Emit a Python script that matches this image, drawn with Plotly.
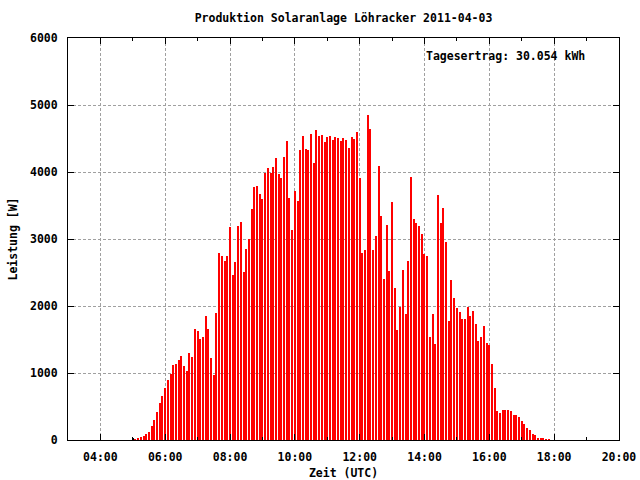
import plotly.graph_objects as go
import pandas as pd

title_text = "Produktion Solaranlage Löhracker 2011-04-03"
x_label = "Zeit (UTC)"
y_label = "Leistung [W]"
yield_label = "Tagesertrag: 30.054 kWh"

start_time = "2011-04-03 05:00"
interval = "5min"

power_w = [
    30, 10, 35, 45, 65, 90, 120, 210, 300, 420,
    550, 660, 770, 900, 990, 1120, 1135, 1195, 1255, 1105,
    1030, 1300, 1240, 1660, 1630, 1510, 1540, 1855, 1660, 1230,
    972, 1900, 2798, 2753, 2678, 2753, 3177, 2468, 2663, 3187,
    3247, 2513, 2858, 2997, 3441, 3770, 3785, 3665, 3590, 3979,
    4054, 3979, 4069, 4204, 3964, 3904, 4219, 4458, 3605, 3127,
    3710, 3560, 4323, 4533, 4338, 4323, 4563, 4129, 4623, 4533,
    4548, 4443, 4518, 4533, 4473, 4518, 4503, 4458, 4503, 4473,
    4353, 4518, 4488, 4593, 3904, 2798, 2843, 4847, 4638, 2843,
    3052, 4084, 3336, 2409, 3216, 2528, 3545, 2274, 1646, 1990,
    2543, 1885, 2678, 3919, 3306, 3246, 3187, 3082, 2783, 2753,
    1541, 1885, 1436, 3650, 3246, 3456, 2962, 1780, 2394, 2124,
    1975, 1915, 1810, 1810, 1990, 1855, 1930, 1735, 1481, 1541,
    1705, 1451, 1421, 1137, 778, 434, 404, 449, 449, 449,
    434, 374, 374, 344, 284, 239, 180, 150, 90, 75,
    30, 30, 30, 15, 15,
]

times = pd.date_range(start_time, periods=len(power_w), freq=interval)
bar_colors = ["#000000"] + ["#ff0000"] * (len(power_w) - 1)

font = dict(family="DejaVu Sans Mono", size=11.5, color="black", weight="bold")

fig = go.Figure(
    go.Bar(
        x=times,
        y=power_w,
        width=125000,
        marker=dict(color=bar_colors, line=dict(width=0)),
    )
)

fig.update_layout(
    width=640,
    height=480,
    margin=dict(l=68, r=21, t=38, b=40),
    paper_bgcolor="white",
    plot_bgcolor="white",
    font=font,
    showlegend=False,
    bargap=0,
    title=dict(text=title_text, x=0.5, xref="paper", y=0.962, yref="container",
               xanchor="center", yanchor="middle", font=font),
)

fig.update_xaxes(
    type="date",
    automargin=False,
    range=["2011-04-03 03:00", "2011-04-03 20:00:01"],
    tick0="2011-04-03 04:00",
    dtick=7200000,
    tickformat="%H:%M",
    ticks="inside",
    ticklen=6,
    tickcolor="black",
    showline=True,
    linecolor="black",
    linewidth=1,
    mirror="ticks",
    showgrid=True,
    gridcolor="#a0a0a0",
    griddash="3px,2px",
    gridwidth=1,
    zeroline=False,
    minor=dict(dtick=3600000, tick0="2011-04-03 03:00", ticks="inside", ticklen=3,
               tickcolor="black", showgrid=False),
    title=dict(text=x_label, font=font, standoff=9),
    tickfont=font,
    ticklabelstandoff=6,
)

fig.update_yaxes(
    automargin=False,
    range=[0, 6000],
    dtick=1000,
    tickformat="d",
    ticks="inside",
    ticklen=6,
    tickcolor="black",
    showline=True,
    linecolor="black",
    linewidth=1,
    mirror="ticks",
    showgrid=True,
    gridcolor="#a0a0a0",
    griddash="3px,2px",
    gridwidth=1,
    zeroline=False,
    title=dict(text=y_label, font=font, standoff=9),
    tickfont=font,
    ticklabelstandoff=7,
)

fig.add_annotation(
    text=yield_label,
    xref="paper", yref="paper",
    x=(587 - 68) / 551, y=(440 - 56) / 402,
    xanchor="right", yanchor="middle",
    showarrow=False,
    font=font,
)

fig.write_html(
    "out.html",
    config={"displayModeBar": False},
    post_script="document.body.style.margin='0';document.body.style.padding='0';",
)
